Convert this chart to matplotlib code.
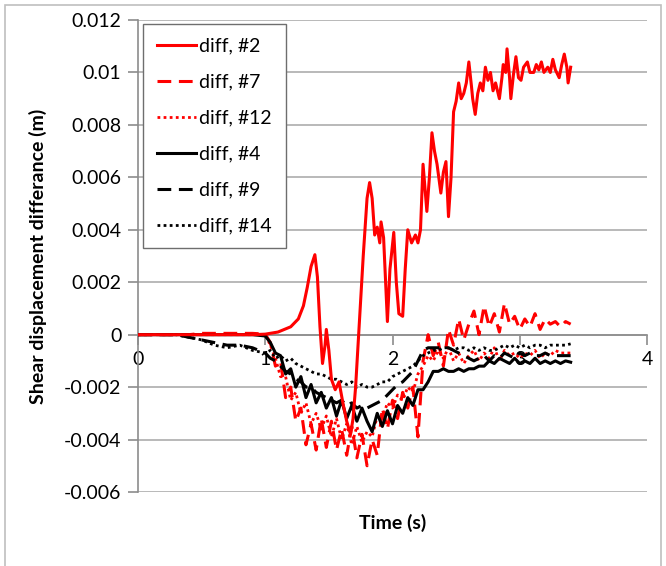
import numpy as np
import matplotlib
matplotlib.use("Agg")
import matplotlib.pyplot as plt
from matplotlib.patches import Rectangle

plt.rcParams['font.family'] = ['Lato', 'DejaVu Sans']

# shear displacement difference, values in mm (converted to m below)
# series #2 has its own time base
t2 = [0, 0.9, 1.0, 1.1, 1.2, 1.26, 1.3, 1.33, 1.36, 1.39, 1.41, 1.43, 1.45, 1.47, 1.48,
      1.5, 1.52, 1.55, 1.58, 1.61, 1.64, 1.67, 1.69, 1.71, 1.74, 1.77, 1.8, 1.82, 1.84,
      1.86, 1.88, 1.9, 1.91, 1.93, 1.96, 1.98, 2.01, 2.03, 2.05, 2.08, 2.1, 2.12, 2.15,
      2.18, 2.2, 2.22, 2.24, 2.27, 2.29, 2.31, 2.33, 2.35, 2.38, 2.4, 2.42, 2.44, 2.46,
      2.48, 2.5, 2.52, 2.54, 2.56, 2.58, 2.6, 2.62, 2.63, 2.65, 2.67, 2.69, 2.71, 2.73,
      2.75, 2.77, 2.79, 2.81, 2.84, 2.86, 2.87, 2.89, 2.9, 2.92, 2.93, 2.95, 2.97, 2.99,
      3.01, 3.03, 3.06, 3.08, 3.11, 3.13, 3.15, 3.17, 3.19, 3.22, 3.24, 3.26, 3.28, 3.31,
      3.33, 3.35, 3.37, 3.38, 3.4]
d2 = [0, 0, 0.02, 0.1, 0.3, 0.6, 1.1, 1.8, 2.6, 3.05, 2.2, 0.3, -1.1, -0.4, 0.2,
      -0.6, -1.7, -2.1, -1.8, -2.6, -3.3, -3.8, -3.2, -2.0, 0.5, 3.0, 5.2, 5.8, 5.2,
      3.8, 4.1, 3.5, 4.3, 3.7, 0.5, 2.5, 3.9, 2.0, 0.8, 0.7, 2.5, 4.0, 3.5,
      3.8, 3.5, 4.0, 6.5, 4.7, 6.0, 7.7, 7.0, 6.5, 5.4, 6.2, 6.6, 4.5, 6.0,
      8.5, 8.9, 9.6, 9.0, 9.2, 9.6, 10.4, 9.5, 9.0, 8.4, 9.2, 9.6, 9.3, 10.2,
      9.7, 10.0, 9.3, 9.6, 9.0, 9.8, 10.3, 10.0, 10.9, 9.8, 9.0, 9.9, 10.6, 9.8,
      9.7, 10.2, 10.4, 10.0, 10.0, 10.3, 10.1, 10.4, 10.0, 10.2, 10.0, 10.5, 10.1, 9.8,
      10.3, 10.7, 10.2, 9.6, 10.2]

# common time base for the other five series
t = [0.0, 0.1, 0.2, 0.3, 0.4, 0.5, 0.6, 0.7, 0.8, 0.9, 1.0,
     1.04, 1.08, 1.12, 1.16, 1.2, 1.24, 1.28, 1.32, 1.36, 1.4,
     1.44, 1.48, 1.52, 1.56, 1.6, 1.64, 1.68, 1.72, 1.76, 1.8,
     1.84, 1.88, 1.92, 1.96, 2.0, 2.04, 2.08, 2.12, 2.16, 2.2,
     2.24, 2.28, 2.32, 2.36, 2.4, 2.44, 2.48, 2.52, 2.56, 2.6,
     2.64, 2.68, 2.72, 2.76, 2.8, 2.84, 2.88, 2.92, 2.96, 3.0,
     3.04, 3.08, 3.12, 3.16, 3.2, 3.24, 3.28, 3.32, 3.36, 3.4]

d7 = [0, 0, 0, 0, 0, 0.05, 0.05, 0.05, 0.05, 0.05, 0.02,
      -0.3, -1.2, -1.0, -2.4, -2.0, -3.3, -2.8, -4.2, -3.4, -4.4,
      -3.2, -4.3, -3.3, -4.4, -3.6, -4.6, -3.5, -4.7, -3.8, -5.0,
      -4.0, -4.6, -2.8, -3.6, -2.5, -3.2, -2.2, -2.8, -2.0, -3.9,
      -1.0, 0.0, -0.8, -0.3, -1.2, 0.2, -0.4, 0.6, -0.2, 0.4,
      0.9, 0.0, 1.1, 0.3, 0.8, 0.1, 1.2, 0.4, 0.7, 0.2,
      0.6, 0.3, 0.8, 0.2, 0.6, 0.4, 0.5, 0.3, 0.5, 0.4]

d12 = [0, 0, 0, 0, 0, 0, 0, 0, 0, 0, 0,
       -0.4, -0.9, -1.6, -1.6, -2.5, -2.2, -3.0, -2.6, -3.4, -3.0,
       -3.6, -3.1, -3.9, -3.2, -4.0, -3.4, -4.2, -3.5, -4.1, -3.7,
       -3.9, -3.1, -3.2, -2.6, -2.8, -2.3, -2.5, -2.0, -2.2, -1.5,
       -1.2, -0.8, -1.0, -0.6, -0.9, -0.5, -1.0, -0.7, -1.1, -0.8,
       -0.6, -1.0, -0.7, -0.9, -0.5, -1.0, -0.6, -0.8, -0.7, -0.9,
       -0.7, -0.8, -0.6, -0.9, -0.7, -0.8, -0.6, -0.7, -0.7, -0.7]

d4 = [0, 0, 0, 0, 0, 0, 0, 0, 0, 0, -0.05,
      -0.3, -0.7, -0.8, -1.5, -1.3, -2.0, -1.6, -2.4, -1.9, -2.6,
      -2.2, -2.8, -2.4, -3.1, -2.5, -3.2, -2.7, -3.3, -2.8, -3.3,
      -3.7, -3.0, -3.5, -2.9, -3.4, -2.7, -3.0, -2.4, -2.7, -2.1,
      -2.1, -1.8, -1.4, -1.4, -1.3, -1.4, -1.4, -1.3, -1.4, -1.3,
      -1.3, -1.2, -1.2, -1.0, -1.1, -0.9, -1.0, -1.1, -0.9, -1.1,
      -1.0, -1.1, -0.9, -1.1, -1.0, -1.1, -1.0, -1.1, -1.0, -1.05]

d9 = [0, 0, 0, 0, -0.1, -0.2, -0.3, -0.4, -0.4, -0.5, -0.7,
      -0.9, -1.0, -1.2, -1.4, -1.5, -1.7, -1.8, -2.0, -2.0, -2.2,
      -2.3, -2.4, -2.5, -2.6, -2.5, -2.7, -2.6, -2.8, -2.7, -2.8,
      -2.7, -2.6, -2.5, -2.3, -2.1, -1.9, -1.8, -1.6, -1.4, -1.0,
      -0.6, -0.5, -0.5, -0.5, -0.5, -0.5, -0.6, -0.7, -0.8, -0.9,
      -1.0, -0.9, -0.8, -1.0, -0.8, -0.9, -0.7, -0.8, -0.9, -0.7,
      -0.8, -0.7, -0.8, -0.8, -0.7, -0.8, -0.8, -0.8, -0.8, -0.8]

d14 = [0, 0, 0, 0, -0.1, -0.2, -0.4, -0.5, -0.4, -0.6, -0.7,
       -0.6, -0.9, -0.8, -1.0, -0.9, -1.1, -1.2, -1.3, -1.4, -1.5,
       -1.5, -1.6, -1.7, -1.7, -1.8, -1.9, -1.8, -2.0, -1.9, -2.0,
       -2.0, -1.9, -1.8, -1.8, -1.6, -1.5, -1.4, -1.3, -1.2, -1.0,
       -0.8, -0.7, -0.6, -0.6, -0.5, -0.5, -0.6, -0.5, -0.5, -0.6,
       -0.5, -0.6, -0.5, -0.6, -0.6, -0.5, -0.4, -0.5, -0.4, -0.5,
       -0.4, -0.5, -0.4, -0.4, -0.5, -0.4, -0.4, -0.4, -0.4, -0.35]

yticks = [-0.006, -0.004, -0.002, 0, 0.002, 0.004, 0.006, 0.008, 0.01, 0.012]
ytick_labels = ['-0.006', '-0.004', '-0.002', '0', '0.002', '0.004', '0.006', '0.008', '0.01', '0.012']
xticks = [0, 1, 2, 3, 4]

fig = plt.figure(figsize=(6.66, 5.66), dpi=100)
ax = fig.add_axes([138 / 666, 1 - 492 / 566, 509 / 666, 472 / 566])

mm = lambda v: np.array(v) / 1000.0
dash = (0, (4.5, 2.5))
dot = (0, (1, 1.2))
ax.plot(t2, mm(d2), color='#ff0000', lw=2.2, label='diff, #2', zorder=4)
ax.plot(t, mm(d7), color='#ff0000', lw=2.2, ls=dash, label='diff, #7', zorder=3)
ax.plot(t, mm(d12), color='#ff0000', lw=2.0, ls=dot, label='diff, #12', zorder=3)
ax.plot(t, mm(d4), color='black', lw=2.2, label='diff, #4', zorder=3)
ax.plot(t, mm(d9), color='black', lw=2.2, ls=dash, label='diff, #9', zorder=3)
ax.plot(t, mm(d14), color='black', lw=2.0, ls=dot, label='diff, #14', zorder=3)

ax.set_xlim(0, 4)
ax.set_ylim(-0.006, 0.012)
ax.set_yticks(yticks)
ax.set_yticklabels(ytick_labels)
ax.set_xticks(xticks)
ax.set_xticklabels([str(x) for x in xticks])

# Excel style axes: x axis crossing at zero
for s in ['top', 'right']:
    ax.spines[s].set_visible(False)
ax.spines['bottom'].set_position(('data', 0))
ax.spines['bottom'].set_color('#8c8c8c')
ax.spines['left'].set_color('#8c8c8c')
ax.spines['bottom'].set_linewidth(1.2)
ax.spines['left'].set_linewidth(1.2)
ax.tick_params(axis='both', direction='out', length=7, width=1.2, color='#8c8c8c',
               labelsize=14, labelcolor='black')
ax.tick_params(axis='y', pad=5)
ax.tick_params(axis='x', pad=5)
ax.yaxis.grid(True, color='#b3b3b3', lw=1.3)
ax.set_axisbelow(True)

ax.set_ylabel('Shear displacement differance (m)', fontsize=14, fontweight='bold')
ax.yaxis.set_label_coords(-0.178, 0.5)
ax.set_xlabel('Time (s)', fontsize=14, fontweight='bold')
ax.xaxis.set_label_coords(0.5, -0.047)

leg = ax.legend(loc='upper left', bbox_to_anchor=(0.01, 0.992), borderaxespad=0,
                fontsize=14, frameon=True, fancybox=False, edgecolor='#6e6e6e',
                handlelength=2.0, handletextpad=0.2, labelspacing=0.98,
                borderpad=0.7)
leg.get_frame().set_linewidth(1.0)
leg.get_frame().set_alpha(1)

# light frame around the whole chart area
fig.patches.append(Rectangle((5 / 666, -0.01), 656 / 666, 1.01 - 5 / 566, transform=fig.transFigure,
                             fill=False, edgecolor='#bfbfbf', lw=1.2))

fig.savefig('out.png', dpi=100)
